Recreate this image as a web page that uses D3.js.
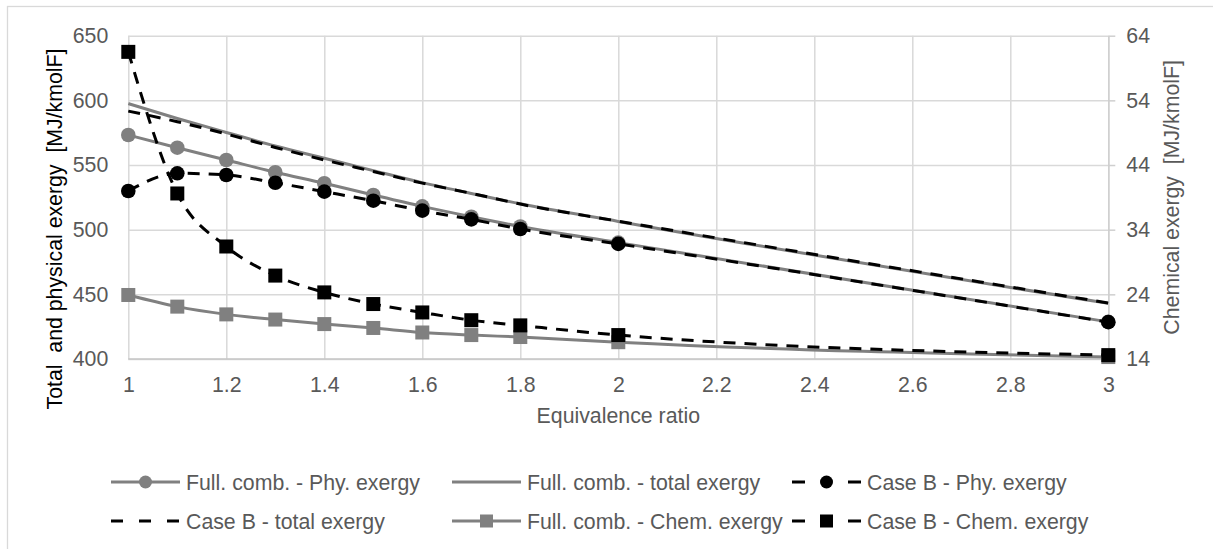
<!DOCTYPE html>
<html>
<head>
<meta charset="utf-8">
<script src="https://cdn.jsdelivr.net/npm/d3@7"></script>
<style>
  body { margin: 0; background: #fff; }
  svg { display: block; font-family: "Liberation Sans", Arial, sans-serif; }
</style>
</head>
<body>
<svg id="chart" width="1213" height="549"></svg>
<script>
// Equivalence ratios sampled
const ratios = [1, 1.1, 1.2, 1.3, 1.4, 1.5, 1.6, 1.7, 1.8, 2, 3];

// Left axis series [MJ/kmolF]
const fullPhy    = [573.2, 563.4, 553.9, 544.4, 535.9, 526.8, 518.0, 510.0, 502.5, 490.0, 428.7];
const fullTotal  = [597.5, 586.0, 575.2, 564.7, 555.2, 545.7, 536.4, 528.0, 520.0, 506.4, 443.0];
const caseBPhy   = [529.9, 543.6, 542.3, 536.3, 529.4, 522.4, 514.7, 508.0, 500.5, 489.0, 428.5];
const caseBTotal = [591.7, 583.5, 574.0, 563.6, 553.9, 545.0, 536.0, 528.1, 519.8, 506.6, 443.3];

// Right axis series [MJ/kmolF]
const fullChem  = [23.9, 22.1, 20.9, 20.1, 19.4, 18.8, 18.1, 17.7, 17.4, 16.6, 14.3];
const caseBChem = [61.5, 39.6, 31.4, 26.9, 24.3, 22.5, 21.2, 20.0, 19.2, 17.7, 14.6];

// Tick values
const xTicks = [1, 1.2, 1.4, 1.6, 1.8, 2, 2.2, 2.4, 2.6, 2.8, 3];
const leftTicks = [400, 450, 500, 550, 600, 650];
const rightTicks = [14, 24, 34, 44, 54, 64];

// Series labels
const names = [
  "Full. comb. - Phy. exergy",
  "Full. comb. - total exergy",
  "Case B - Phy. exergy",
  "Case B - total exergy",
  "Full. comb. - Chem. exergy",
  "Case B - Chem. exergy"
];

const GRAY = "#808080", BLACK = "#000000", TEXT = "#595959", GRID = "#d9d9d9";

const series = [
  { name: names[0], values: fullPhy,    axis: "L", color: GRAY,  dashed: false, marker: "circle" },
  { name: names[1], values: fullTotal,  axis: "L", color: GRAY,  dashed: false, marker: null },
  { name: names[2], values: caseBPhy,   axis: "L", color: BLACK, dashed: true,  marker: "circle" },
  { name: names[3], values: caseBTotal, axis: "L", color: BLACK, dashed: true,  marker: null },
  { name: names[4], values: fullChem,   axis: "R", color: GRAY,  dashed: false, marker: "square" },
  { name: names[5], values: caseBChem,  axis: "R", color: BLACK, dashed: true,  marker: "square" }
];

const svg = d3.select("#chart");

// Chart frame
svg.append("rect")
  .attr("x", 7.5).attr("y", 6.5)
  .attr("width", 1220).attr("height", 600)
  .attr("fill", "#fff").attr("stroke", GRID).attr("stroke-width", 1.3);

const plotL = 128.3, plotR = 1108.3, plotT = 35.7, plotB = 359;

const x  = d3.scaleLinear().domain([1, 3]).range([plotL, plotR]);
const yL = d3.scaleLinear().domain([400, 650]).range([plotB, plotT]);
const yR = d3.scaleLinear().domain([14, 64]).range([plotB, plotT]);

const FONT = "Liberation Sans, Arial, sans-serif";
const FS = 21.3;

// Gridlines
const gx = svg.append("g").attr("transform", `translate(0,${plotB})`)
  .call(d3.axisBottom(x).tickValues(xTicks).tickSize(-(plotB - plotT)).tickFormat(""));
gx.select(".domain").remove();
gx.selectAll("line").attr("stroke", GRID).attr("stroke-width", 1.5);

const gy = svg.append("g").attr("transform", `translate(${plotL},0)`)
  .call(d3.axisLeft(yL).tickValues(leftTicks).tickSize(-(plotR - plotL)).tickFormat(""));
gy.select(".domain").remove();
gy.selectAll("line").attr("stroke", GRID).attr("stroke-width", 1.5);

// Bottom axis line
svg.append("line")
  .attr("x1", plotL).attr("x2", plotR)
  .attr("y1", yL(400)).attr("y2", yL(400))
  .attr("stroke", "#c6c6c6").attr("stroke-width", 1.5);

// X tick labels
const ax = svg.append("g").attr("transform", `translate(0,${plotB})`)
  .call(d3.axisBottom(x).tickValues(xTicks).tickSize(0).tickPadding(18).tickFormat(d3.format("~g")));
ax.select(".domain").remove();
ax.selectAll("text").attr("font-size", FS).attr("fill", TEXT).attr("font-family", FONT);

// Left tick labels
const al = svg.append("g").attr("transform", `translate(${plotL},0)`)
  .call(d3.axisLeft(yL).tickValues(leftTicks).tickSize(0).tickPadding(20));
al.select(".domain").remove();
al.selectAll("text").attr("font-size", FS).attr("fill", TEXT).attr("font-family", FONT);

// Right axis with outward ticks
const ar = svg.append("g").attr("transform", `translate(${plotR},0)`)
  .call(d3.axisRight(yR).tickValues(rightTicks).tickSize(7).tickSizeOuter(0).tickPadding(11));
ar.select(".domain").attr("stroke", "#cfcfcf").attr("stroke-width", 1.5);
ar.selectAll("line").attr("stroke", "#cfcfcf").attr("stroke-width", 1.5);
ar.selectAll("text").attr("font-size", FS).attr("fill", TEXT).attr("font-family", FONT);

// Axis titles
svg.append("text")
  .attr("x", (plotL + plotR) / 2).attr("y", 423)
  .attr("text-anchor", "middle").attr("font-size", FS).attr("fill", TEXT)
  .text("Equivalence ratio");

svg.append("text")
  .attr("transform", "translate(62,229) rotate(-90)")
  .attr("text-anchor", "middle").attr("font-size", FS).attr("fill", BLACK)
  .style("white-space", "pre")
  .text("Total  and physical exergy  [MJ/kmolF]");

svg.append("text")
  .attr("transform", `translate(1178.5,${(plotT + plotB) / 2}) rotate(-90)`)
  .attr("text-anchor", "middle").attr("font-size", FS).attr("fill", TEXT)
  .style("white-space", "pre")
  .text("Chemical exergy  [MJ/kmolF]");

// Series lines and markers
const plot = svg.append("g");
series.forEach(s => {
  const yS = s.axis === "L" ? yL : yR;
  const pts = ratios.map((r, i) => ({ x: r, y: s.values[i] }));
  const line = d3.line().x(d => x(d.x)).y(d => yS(d.y)).curve(d3.curveMonotoneX);
  plot.append("path")
    .datum(pts)
    .attr("d", line)
    .attr("fill", "none")
    .attr("stroke", s.color)
    .attr("stroke-width", 3)
    .attr("stroke-dasharray", s.dashed ? "12,9" : null);
  if (s.marker === "circle") {
    plot.selectAll(null).data(pts).enter().append("circle")
      .attr("cx", d => x(d.x)).attr("cy", d => yS(d.y)).attr("r", 7.3)
      .attr("fill", s.color);
  } else if (s.marker === "square") {
    const sz = 14;
    plot.selectAll(null).data(pts).enter().append("rect")
      .attr("x", d => x(d.x) - sz / 2).attr("y", d => yS(d.y) - sz / 2)
      .attr("width", sz).attr("height", sz)
      .attr("fill", s.color);
  }
});

// Legend
const legCols = [111, 452, 792];
const legRows = [482, 521];
const symW = 69;
series.forEach((s, i) => {
  const cx = legCols[i % 3], cy = legRows[Math.floor(i / 3)];
  const g = svg.append("g").attr("transform", `translate(${cx},${cy})`);
  g.append("line")
    .attr("x1", 0).attr("x2", symW).attr("y1", 0).attr("y2", 0)
    .attr("stroke", s.color).attr("stroke-width", 3)
    .attr("stroke-dasharray", s.dashed ? (s.marker ? "13,43" : "12,16") : null);
  if (s.marker === "circle") {
    g.append("circle").attr("cx", symW / 2).attr("cy", 0).attr("r", 6.5).attr("fill", s.color);
  } else if (s.marker === "square") {
    g.append("rect").attr("x", symW / 2 - 6.5).attr("y", -6.5).attr("width", 13).attr("height", 13).attr("fill", s.color);
  }
  g.append("text")
    .attr("x", symW + 6).attr("y", 7.7)
    .attr("font-size", FS).attr("fill", TEXT)
    .text(s.name);
});
</script>
</body>
</html>
